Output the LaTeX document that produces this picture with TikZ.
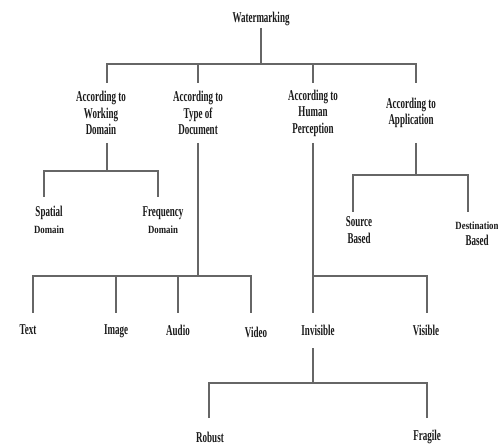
\documentclass[tikz,border=0pt]{standalone}
\usepackage{fontspec}
\setmainfont{Liberation Serif}[FakeStretch=0.6]
\newfontfamily\smallcond{Liberation Serif}[FakeStretch=0.8]
\newcommand\smtxt{\smallcond\bfseries\fontsize{11}{12}\selectfont}
\begin{document}
\begin{tikzpicture}[x=1pt,y=-1pt,
  lbl/.style={font=\bfseries\fontsize{15}{16.5}\selectfont, text=black!90, inner sep=0pt, outer sep=0pt, align=center},
  conn/.style={draw=black!60, line width=1.1pt}]
\useasboundingbox (0,0) rectangle (498,446);
% nodes
\node[lbl, minimum height=19pt] (wm) at (261,18.5) {Watermarking};
\node[lbl, minimum height=60pt] (a1) at (101,113) {According to\\Working\\Domain};
\node[lbl, minimum height=60pt] (a2) at (198,113) {According to\\Type of\\Document};
\node[lbl, minimum height=60pt] (a3) at (313,113) {According to\\Human\\Perception};
\node[lbl, minimum height=60pt] (a4) at (411,113) {According to\\Application};
\node[lbl, minimum height=46pt] (sp) at (49,220) {Spatial\\{\smtxt Domain}};
\node[lbl, minimum height=46pt] (fq) at (163,220) {Frequency\\{\smtxt Domain}};
\node[lbl, minimum height=36pt] (src) at (359,230) {Source\\Based};
\node[lbl, minimum height=44pt] (dst) at (477,234) {{\smtxt Destination}\\Based};
\node[lbl, minimum height=34pt] (tx) at (28,330) {Text};
\node[lbl, minimum height=36pt] (im) at (116,331) {Image};
\node[lbl, minimum height=34pt] (au) at (178,330) {Audio};
\node[lbl, minimum height=38pt] (vd) at (256,332) {Video};
\node[lbl, minimum height=35pt] (inv) at (318,330.5) {Invisible};
\node[lbl, minimum height=34pt] (vis) at (426,330) {Visible};
\node[lbl, minimum height=38pt] (rob) at (210,437) {Robust};
\node[lbl, minimum height=38pt] (fr) at (427,437) {Fragile};
% junctions
\coordinate (j0) at (261,64);
\coordinate (j1) at (107,171);
\coordinate (j2) at (198,276);
\coordinate (j3) at (313,276);
\coordinate (j4) at (416,175);
\coordinate (j5) at (313,383);
% connectors
\draw[conn] (wm.south) -- (j0);
\draw[conn] (j1 |- a1.north) |- (j0);
\draw[conn] (j2 |- a2.north) |- (j0);
\draw[conn] (j3 |- a3.north) |- (j0);
\draw[conn] (j4 |- a4.north) |- (j0);
\draw[conn] (j1 |- a1.south) -- (j1);
\draw[conn] ([xshift=-5pt]sp.north) |- (j1);
\draw[conn] ([xshift=-5pt]fq.north) |- (j1);
\draw[conn] (j2 |- a2.south) -- (j2);
\draw[conn] ([xshift=5pt]tx.north) |- (j2);
\draw[conn] (im.north) |- (j2);
\draw[conn] (au.north) |- (j2);
\draw[conn] ([xshift=-5pt]vd.north) |- (j2);
\draw[conn] (j3 |- a3.south) -- (j3);
\draw[conn] (j3 |- inv.north) -- (j3);
\draw[conn] ([xshift=1pt]vis.north) |- (j3);
\draw[conn] (j4 |- a4.south) -- (j4);
\draw[conn] ([xshift=-6pt]src.north) |- (j4);
\draw[conn] ([xshift=-9pt]dst.north) |- (j4);
\draw[conn] (j5 |- inv.south) -- (j5);
\draw[conn] ([xshift=-1pt]rob.north) |- (j5);
\draw[conn] (fr.north) |- (j5);
\end{tikzpicture}
\end{document}
